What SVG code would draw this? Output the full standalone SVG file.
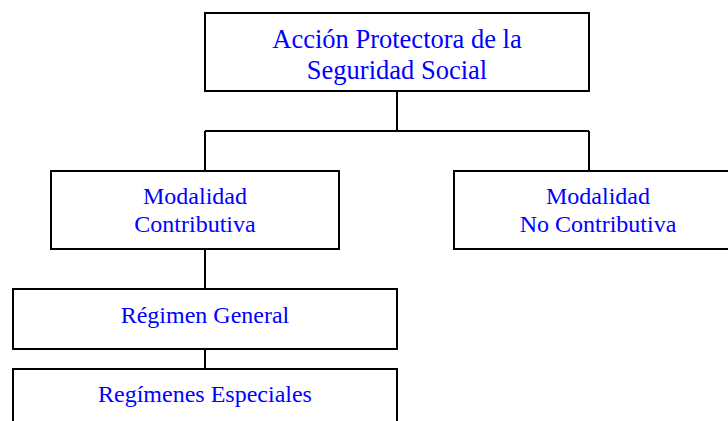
<svg xmlns="http://www.w3.org/2000/svg" width="728" height="421" viewBox="0 0 728 421">
<style>
.box{fill:#fff;stroke:#000;stroke-width:2}
.conn{fill:none;stroke:#000;stroke-width:2}
text{font-family:"Liberation Serif","Times New Roman",serif;fill:#0000ff;text-anchor:middle}
.big{font-size:26.5px}
.med{font-size:24px}
</style>
<rect width="728" height="421" fill="#fff"/>
<g id="connectors">
<path class="conn" d="M397 91V131M205 131H589M205 131V171M589 131V171M205 249V289M205 349V369"/>
</g>
<g id="n-accion">
<rect class="box" x="205" y="13" width="384" height="78"/>
<text class="big" x="397" y="48">Acción Protectora de la</text>
<text class="big" x="397" y="79">Seguridad Social</text>
</g>
<g id="n-contributiva">
<rect class="box" x="51" y="171" width="288" height="78"/>
<text class="med" x="195" y="204">Modalidad</text>
<text class="med" x="195" y="232">Contributiva</text>
</g>
<g id="n-nocontributiva">
<rect class="box" x="454" y="171" width="288" height="78"/>
<text class="med" x="598" y="204">Modalidad</text>
<text class="med" x="598" y="232">No Contributiva</text>
</g>
<g id="n-general">
<rect class="box" x="13" y="289" width="384" height="60"/>
<text class="med" x="205" y="323">Régimen General</text>
</g>
<g id="n-especiales">
<rect class="box" x="13" y="369" width="384" height="70"/>
<text class="med" x="205" y="402">Regímenes Especiales</text>
</g>
</svg>
